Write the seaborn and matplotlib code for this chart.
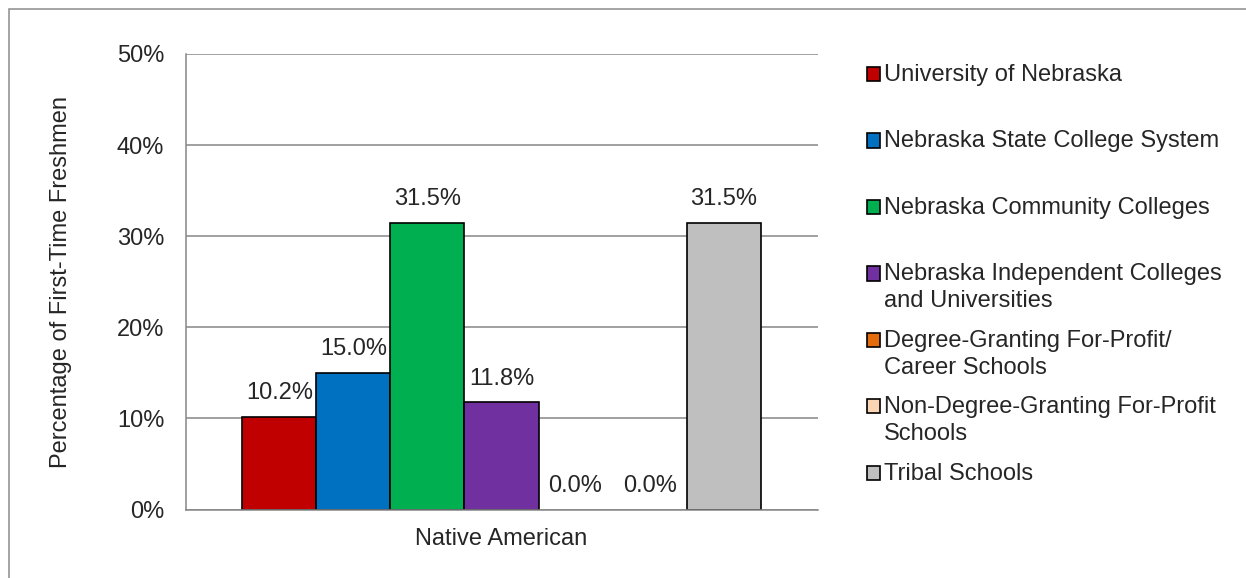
import pandas as pd
import seaborn as sns
import matplotlib.pyplot as plt
from matplotlib.patches import Rectangle
from matplotlib.legend_handler import HandlerPatch

# datos
group = ["Native American"]
sectors = ["University of Nebraska", "Nebraska State College System",
           "Nebraska Community Colleges",
           "Nebraska Independent Colleges and Universities",
           "Degree-Granting For-Profit/ Career Schools",
           "Non-Degree-Granting For-Profit Schools", "Tribal Schools"]
legend_labels = ["University of Nebraska", "Nebraska State College System",
                 "Nebraska Community Colleges",
                 "Nebraska Independent Colleges\nand Universities",
                 "Degree-Granting For-Profit/\nCareer Schools",
                 "Non-Degree-Granting For-Profit\nSchools", "Tribal Schools"]
pct = [10.2, 15.0, 31.5, 11.8, 0.0, 0.0, 31.5]
colors = ["#C00000", "#0070C0", "#00B050", "#7030A0", "#E46C0A", "#FCD5B5", "#BFBFBF"]
y_ticks = [0, 10, 20, 30, 40, 50]

sns.set_style("white")
plt.rcParams['font.family'] = ['Liberation Sans', 'DejaVu Sans']
plt.rcParams['font.size'] = 17

GRID = "#868686"
LIFT = 0.62  # sube el cuadrito de la leyenda a la primera linea

df = pd.DataFrame({"group": group * len(sectors), "sector": sectors, "pct": pct})

fig = plt.figure(figsize=(12.46, 5.78), dpi=100)
ax = fig.add_axes([0.1489, 0.1185, 0.5072, 0.7881])

sns.barplot(data=df, x="group", y="pct", hue="sector", hue_order=sectors,
            palette=colors, saturation=1, width=0.82, edgecolor="black",
            linewidth=1.2, legend=False, ax=ax)

for p in ax.patches:
    if p.get_height() == 0:
        p.set_linewidth(0)

for c in ax.containers:
    ax.bar_label(c, fmt="{:.1f}%", padding=9, fontsize=17)

ax.set_xlim(-0.5, 0.5)
ax.set_ylim(0, 50)
ax.set_yticks(y_ticks)
ax.set_yticklabels([f"{v}%" for v in y_ticks])
ax.set_xlabel("")
ax.set_ylabel("Percentage of First-Time Freshmen", fontsize=17)
ax.yaxis.set_label_coords(-0.18, 0.5)

ax.yaxis.grid(True, color=GRID, linewidth=1.1)
ax.set_axisbelow(True)
for s in ["top", "right"]:
    ax.spines[s].set_visible(False)
for s in ["left", "bottom"]:
    ax.spines[s].set_color(GRID)
    ax.spines[s].set_linewidth(1.1)

ax.tick_params(axis="y", length=4.3, width=1.1, color=GRID, pad=11, direction="out", labelsize=17)
ax.tick_params(axis="x", which="major", length=0, pad=13, labelsize=17)
ax.set_xticks([-0.5, 0.5], minor=True)
ax.tick_params(axis="x", which="minor", length=4, width=1.1, color=GRID, direction="out")


def top_square(legend, orig_handle, xdescent, ydescent, width, height, fontsize):
    return Rectangle((-xdescent, -ydescent + LIFT * fontsize), width, height)


labels2 = [l if "\n" in l else l + "\n " for l in legend_labels]
handles = [Rectangle((0, 0), 1, 1, facecolor=c, edgecolor="black", linewidth=1.2) for c in colors]
leg = fig.legend(handles, labels2, loc="upper left",
                 bbox_to_anchor=(867 / 1246, 1 - 64 / 578), frameon=False,
                 handlelength=0.55, handleheight=0.55, handletextpad=0.15,
                 labelspacing=0.735, borderpad=0, borderaxespad=0, fontsize=17,
                 handler_map={Rectangle: HandlerPatch(patch_func=top_square)})
for t in leg.get_texts():
    t.set_linespacing(1.3)

# marco exterior (solo se ve arriba y a la izquierda)
fig.patches.append(Rectangle((9 / 1246, -0.1), 1.2, 1.1 - 9 / 578, transform=fig.transFigure,
                             fill=False, edgecolor="#8c8c8c", linewidth=1.1))

fig.savefig("out.png", dpi=100)
